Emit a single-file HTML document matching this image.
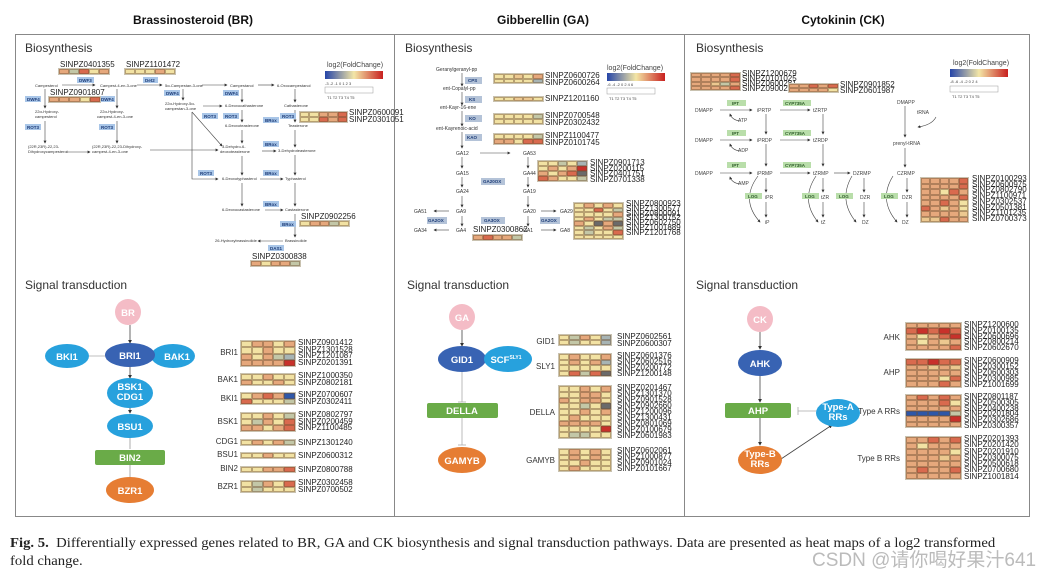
<!DOCTYPE html>
<html><head><meta charset="utf-8"><style>
*{margin:0;padding:0;box-sizing:border-box}
body{width:1058px;height:574px;background:#fff;position:relative;overflow:hidden;font-family:"Liberation Sans",sans-serif;color:#333}
.a{position:absolute}
.h{position:absolute;display:grid;grid-template-columns:repeat(5,1fr);grid-auto-rows:1fr;border:1px solid #c9c2b0}
.h i{display:block;border:0.5px solid rgba(110,80,50,.45)}
.y{background:#f2e2a3}.o{background:#ecc890}.p{background:#e6a87c}.r{background:#d96a4e}.d{background:#c8312b}.g{background:#c3c7a7}.b{background:#2f57a8}.k{background:#6a6a6a}.e{background:#a7b4b4}
.gl{position:absolute;font-size:8px;line-height:6.5px;color:#222;white-space:pre}
.gn{position:absolute;font-size:8px;color:#333;text-align:right}
svg{position:absolute;left:0;top:0}
</style></head><body>
<svg width="1058" height="574" viewBox="0 0 1058 574" font-family="Liberation Sans, sans-serif">
<defs><marker id="m" markerWidth="5" markerHeight="5" refX="4" refY="2.5" orient="auto"><path d="M0,0L5,2.5L0,5z" fill="#333"/></marker>
<linearGradient id="lg"><stop offset="0" stop-color="#2545a8"/><stop offset=".5" stop-color="#f3e6a6"/><stop offset="1" stop-color="#c8201f"/></linearGradient></defs>
<g font-weight="bold" font-size="12" fill="#111" text-anchor="middle">
<text x="193" y="24">Brassinosteroid (BR)</text><text x="543" y="24">Gibberellin (GA)</text><text x="843" y="24">Cytokinin (CK)</text></g>
<rect x="15.5" y="34.5" width="1014" height="482" fill="none" stroke="#888"/>
<line x1="394.5" y1="34" x2="394.5" y2="517" stroke="#888"/><line x1="684.5" y1="34" x2="684.5" y2="517" stroke="#888"/>
<g font-size="12" fill="#333"><text x="25" y="52">Biosynthesis</text><text x="405" y="52">Biosynthesis</text><text x="696" y="52">Biosynthesis</text>
<text x="25" y="289">Signal transduction</text><text x="407" y="289">Signal transduction</text><text x="696" y="289">Signal transduction</text></g>
<g font-size="4" fill="#444">
<text x="327" y="67" font-size="7">log2(FoldChange)</text><rect x="325" y="71" width="58" height="8" fill="url(#lg)"/>
<text x="325" y="85">-3  -2  -1   0   1   2   3</text>
<rect x="325" y="87" width="48" height="6" fill="none" stroke="#999" stroke-width=".5"/><text x="327" y="99">T1   T2   T3   T4   T5</text>
<text x="607" y="70" font-size="7">log2(FoldChange)</text><rect x="607" y="73" width="58" height="8" fill="url(#lg)"/>
<text x="607" y="86">-6  -4  -2   0   2   4   6</text>
<rect x="607" y="88" width="48" height="6" fill="none" stroke="#999" stroke-width=".5"/><text x="609" y="100">T1   T2   T3   T4   T5</text>
<text x="953" y="65" font-size="7">log2(FoldChange)</text><rect x="950" y="69" width="58" height="8" fill="url(#lg)"/>
<text x="950" y="83">-8  -6  -4  -2   0   2   4</text>
<rect x="950" y="86" width="48" height="6" fill="none" stroke="#999" stroke-width=".5"/><text x="952" y="98">T1   T2   T3   T4   T5</text>
</g>
<g font-size="4" fill="#333">
<text x="35" y="87">Campesterol</text><text x="100" y="87">Campest-4-en-3-one</text><text x="165" y="87">5α-Campestan-3-one</text><text x="230" y="87">Campestanol</text><text x="277" y="87">6-Oxocampestanol</text>
<text x="35" y="113">22α-Hydroxy-</text><text x="35" y="118">campesterol</text><text x="100" y="113">22α-Hydroxy-</text><text x="97" y="118">campest-4-en-3-one</text>
<text x="165" y="105">22α-Hydroxy-5α-</text><text x="165" y="110">campestan-3-one</text><text x="225" y="107">6-Deoxocathasterone</text><text x="284" y="107">Cathasterone</text>
<text x="225" y="127">6-Deoxoteasterone</text><text x="288" y="127">Teasterone</text>
<text x="28" y="148">(22R,23R)-22,23-</text><text x="28" y="153">Dihydroxycampesterol</text><text x="92" y="148">(22R,23R)-22,23-Dihydroxy-</text><text x="92" y="153">campest-4-en-3-one</text>
<text x="222" y="148">3-Dehydro-6-</text><text x="220" y="153">deoxoteasterone</text><text x="278" y="152">3-Dehydroteasterone</text>
<text x="222" y="180">6-Deoxotyphasterol</text><text x="285" y="180">Typhasterol</text>
<text x="222" y="211">6-Deoxocastasterone</text><text x="285" y="211">Castasterone</text>
<text x="215" y="242">26-Hydroxybrassinolide</text><text x="285" y="242">Brassinolide</text></g>
<g stroke="#444" stroke-width=".6" fill="none" marker-end="url(#m)">
<line x1="62" y1="85" x2="95" y2="85"/><line x1="137" y1="85" x2="162" y2="85"/><line x1="202" y1="85" x2="227" y2="85"/><line x1="258" y1="85" x2="274" y2="85"/>
<line x1="45" y1="89" x2="45" y2="108"/><line x1="117" y1="89" x2="117" y2="108"/><line x1="183" y1="89" x2="183" y2="100"/><line x1="242" y1="89" x2="242" y2="102"/><line x1="295" y1="89" x2="295" y2="102"/>
<line x1="45" y1="121" x2="45" y2="143"/><line x1="117" y1="121" x2="117" y2="143"/><line x1="242" y1="110" x2="242" y2="122"/><line x1="295" y1="110" x2="295" y2="122"/>
<line x1="66" y1="152" x2="90" y2="152"/><line x1="150" y1="150" x2="218" y2="150"/><line x1="192" y1="112" x2="222" y2="146"/><line x1="203" y1="106" x2="222" y2="106"/>
<line x1="242" y1="130" x2="242" y2="143"/><line x1="295" y1="130" x2="295" y2="147"/><line x1="262" y1="151" x2="276" y2="151"/>
<line x1="242" y1="156" x2="242" y2="175"/><line x1="295" y1="155" x2="295" y2="175"/><line x1="260" y1="179" x2="283" y2="179"/>
<line x1="242" y1="183" x2="242" y2="206"/><line x1="295" y1="183" x2="295" y2="206"/><line x1="265" y1="210" x2="283" y2="210"/>
<line x1="295" y1="214" x2="295" y2="237"/><line x1="283" y1="241" x2="258" y2="241"/>
<polyline points="192,112 192,179 218,179"/></g>
<g font-size="4.5" font-weight="bold" fill="#1d3c78">
<rect x="77" y="77" width="17" height="6" fill="#a9c6e8"/><text x="79" y="82">DWF3</text>
<rect x="143" y="77" width="15" height="6" fill="#a9c6e8"/><text x="145" y="82">Det2</text>
<rect x="25" y="96" width="16" height="6" fill="#a9c6e8"/><text x="27" y="101">DWF4</text>
<rect x="99" y="96" width="16" height="6" fill="#a9c6e8"/><text x="101" y="101">DWF4</text>
<rect x="164" y="90" width="16" height="6" fill="#a9c6e8"/><text x="166" y="95">DWF4</text>
<rect x="223" y="90" width="16" height="6" fill="#a9c6e8"/><text x="225" y="95">DWF4</text>
<rect x="25" y="124" width="16" height="6" fill="#a9c6e8"/><text x="27" y="129">ROT3</text>
<rect x="99" y="124" width="16" height="6" fill="#a9c6e8"/><text x="101" y="129">ROT3</text>
<rect x="202" y="113" width="16" height="6" fill="#a9c6e8"/><text x="204" y="118">ROT3</text>
<rect x="223" y="113" width="16" height="6" fill="#a9c6e8"/><text x="225" y="118">ROT3</text>
<rect x="280" y="113" width="16" height="6" fill="#a9c6e8"/><text x="282" y="118">ROT3</text>
<rect x="263" y="117" width="16" height="6" fill="#a9c6e8"/><text x="265" y="122">BRox</text>
<rect x="263" y="141" width="16" height="6" fill="#a9c6e8"/><text x="265" y="146">BRox</text>
<rect x="198" y="170" width="16" height="6" fill="#a9c6e8"/><text x="200" y="175">ROT3</text>
<rect x="263" y="170" width="16" height="6" fill="#a9c6e8"/><text x="265" y="175">BRox</text>
<rect x="263" y="201" width="16" height="6" fill="#a9c6e8"/><text x="265" y="206">BRox</text>
<rect x="280" y="221" width="16" height="6" fill="#a9c6e8"/><text x="282" y="226">BRox</text>
<rect x="268" y="245" width="16" height="6" fill="#a9c6e8"/><text x="270" y="250">DAS1</text></g>
<g font-size="5" fill="#333">
<text x="436" y="71">Geranylgeranyl-pp</text><text x="443" y="90">ent-Copalyl-pp</text><text x="440" y="109">ent-Kayr-16-ene</text><text x="436" y="130">ent-Kayrenoic-acid</text>
<text x="456" y="155">GA12</text><text x="523" y="155">GA53</text><text x="456" y="175">GA15</text><text x="523" y="175">GA44</text><text x="456" y="193">GA24</text><text x="523" y="193">GA19</text>
<text x="456" y="213">GA9</text><text x="523" y="213">GA20</text><text x="414" y="213">GA51</text><text x="560" y="213">GA29</text>
<text x="456" y="232">GA4</text><text x="523" y="232">GA1</text><text x="414" y="232">GA34</text><text x="560" y="232">GA8</text></g>
<g stroke="#444" stroke-width=".6" fill="none" marker-end="url(#m)">
<line x1="462" y1="73" x2="462" y2="86"/><line x1="462" y1="92" x2="462" y2="105"/><line x1="462" y1="111" x2="462" y2="126"/><line x1="462" y1="132" x2="462" y2="148"/>
<line x1="480" y1="153" x2="510" y2="153"/><line x1="462" y1="157" x2="462" y2="168"/><line x1="462" y1="177" x2="462" y2="187"/><line x1="462" y1="196" x2="462" y2="207"/><line x1="462" y1="216" x2="462" y2="226"/>
<line x1="528" y1="157" x2="528" y2="168"/><line x1="528" y1="177" x2="528" y2="187"/><line x1="528" y1="196" x2="528" y2="207"/><line x1="528" y1="216" x2="528" y2="226"/>
<line x1="449" y1="211" x2="434" y2="211"/><line x1="449" y1="230" x2="434" y2="230"/><line x1="541" y1="211" x2="556" y2="211"/><line x1="541" y1="230" x2="556" y2="230"/></g>
<g font-size="4.5" font-weight="bold" fill="#1d3c78">
<rect x="465" y="77" width="17" height="7" fill="#b4c3d8"/><text x="468" y="82">CPS</text>
<rect x="465" y="96" width="17" height="7" fill="#b4c3d8"/><text x="469" y="101">KS</text>
<rect x="465" y="115" width="17" height="7" fill="#b4c3d8"/><text x="469" y="120">KO</text>
<rect x="465" y="134" width="17" height="7" fill="#b4c3d8"/><text x="467" y="139">KAO</text>
<rect x="481" y="178" width="24" height="7" fill="#b4c3d8"/><text x="483" y="183">GA20OX</text>
<rect x="427" y="217" width="20" height="7" fill="#b4c3d8"/><text x="428" y="222">GA2OX</text>
<rect x="481" y="217" width="24" height="7" fill="#b4c3d8"/><text x="484" y="222">GA3OX</text>
<rect x="540" y="217" width="20" height="7" fill="#b4c3d8"/><text x="541" y="222">GA2OX</text></g>
<g font-size="5" fill="#444">
<text x="695" y="112">DMAPP</text><text x="695" y="142">DMAPP</text><text x="695" y="175">DMAPP</text>
<text x="757" y="112">iPRTP</text><text x="757" y="142">iPRDP</text><text x="757" y="175">iPRMP</text>
<text x="813" y="112">tZRTP</text><text x="813" y="142">tZRDP</text><text x="813" y="175">tZRMP</text>
<text x="853" y="175">DZRMP</text><text x="897" y="175">CZRMP</text>
<text x="765" y="199">iPR</text><text x="821" y="199">tZR</text><text x="860" y="199">DZR</text><text x="902" y="199">DZR</text>
<text x="765" y="224">iP</text><text x="821" y="224">tZ</text><text x="862" y="224">DZ</text><text x="902" y="224">DZ</text>
<text x="897" y="104">DMAPP</text><text x="917" y="114">tRNA</text><text x="893" y="145">prenyl-tRNA</text>
<text x="738" y="122">ATP</text><text x="738" y="152">ADP</text><text x="738" y="185">AMP</text></g>
<g stroke="#444" stroke-width=".6" fill="none" marker-end="url(#m)">
<line x1="720" y1="110" x2="752" y2="110"/><line x1="720" y1="140" x2="752" y2="140"/><line x1="720" y1="173" x2="752" y2="173"/>
<line x1="780" y1="110" x2="810" y2="110"/><line x1="780" y1="140" x2="810" y2="140"/><line x1="780" y1="173" x2="810" y2="173"/><line x1="834" y1="173" x2="850" y2="173"/>
<line x1="766" y1="114" x2="766" y2="134"/><line x1="766" y1="144" x2="766" y2="166"/><line x1="766" y1="178" x2="766" y2="192"/><line x1="766" y1="202" x2="766" y2="217"/>
<line x1="823" y1="114" x2="823" y2="134"/><line x1="823" y1="144" x2="823" y2="166"/><line x1="823" y1="178" x2="823" y2="192"/><line x1="823" y1="202" x2="823" y2="217"/>
<line x1="864" y1="178" x2="864" y2="192"/><line x1="864" y1="202" x2="864" y2="217"/><line x1="907" y1="178" x2="907" y2="192"/><line x1="907" y1="202" x2="907" y2="217"/>
<line x1="905" y1="106" x2="905" y2="137"/><line x1="905" y1="148" x2="905" y2="167"/>
<path d="M936,117 Q932,125 918,127"/><path d="M740,121 Q732,120 730,114"/><path d="M740,151 Q732,150 730,144"/><path d="M740,184 Q732,183 730,177"/>
<path d="M758,176 Q740,200 760,222"/><path d="M816,176 Q800,200 818,222"/><path d="M852,176 Q838,200 856,222"/><path d="M893,176 Q878,200 897,222"/></g>
<g font-size="4.5" font-weight="bold" fill="#2f5d2a">
<rect x="727" y="100" width="19" height="6" fill="#b9deaa"/><text x="732" y="105">IPT</text>
<rect x="727" y="130" width="19" height="6" fill="#b9deaa"/><text x="732" y="135">IPT</text>
<rect x="727" y="162" width="19" height="6" fill="#b9deaa"/><text x="732" y="167">IPT</text>
<rect x="783" y="100" width="28" height="6" fill="#b9deaa"/><text x="785" y="105">CYP735A</text>
<rect x="783" y="130" width="28" height="6" fill="#b9deaa"/><text x="785" y="135">CYP735A</text>
<rect x="783" y="162" width="28" height="6" fill="#b9deaa"/><text x="785" y="167">CYP735A</text>
<rect x="745" y="193" width="17" height="6" fill="#b9deaa"/><text x="748" y="198">LOG</text>
<rect x="802" y="193" width="17" height="6" fill="#b9deaa"/><text x="805" y="198">LOG</text>
<rect x="836" y="193" width="17" height="6" fill="#b9deaa"/><text x="839" y="198">LOG</text>
<rect x="881" y="193" width="17" height="6" fill="#b9deaa"/><text x="884" y="198">LOG</text></g>
<g stroke="#444" stroke-width=".8" fill="none">
<line x1="130" y1="325" x2="130" y2="343" marker-end="url(#m)"/><line x1="130" y1="367" x2="130" y2="378" marker-end="url(#m)"/><line x1="130" y1="407" x2="130" y2="413" marker-end="url(#m)"/>
<line x1="130" y1="438" x2="130" y2="449" stroke="#999"/><line x1="130" y1="464" x2="130" y2="477" stroke="#999"/>
<line x1="89" y1="356" x2="106" y2="356" stroke="#aaa"/><line x1="107" y1="352" x2="107" y2="360" stroke="#aaa"/>
<line x1="462" y1="330" x2="462" y2="346" marker-end="url(#m)"/><line x1="462" y1="371" x2="462" y2="402" stroke="#aaa"/><line x1="458" y1="402" x2="466" y2="402" stroke="#aaa"/>
<line x1="462" y1="418" x2="462" y2="445" stroke="#aaa"/><line x1="458" y1="445" x2="466" y2="445" stroke="#aaa"/>
<line x1="760" y1="332" x2="760" y2="349" marker-end="url(#m)"/><line x1="760" y1="376" x2="760" y2="402" marker-end="url(#m)"/><line x1="760" y1="418" x2="760" y2="445" marker-end="url(#m)"/>
<line x1="816" y1="411" x2="798" y2="411" stroke="#aaa"/><line x1="798" y1="407" x2="798" y2="415" stroke="#aaa"/><line x1="781" y1="459" x2="832" y2="425" marker-end="url(#m)"/></g>
<g font-size="9.5" fill="#fff" text-anchor="middle" font-weight="bold">
<circle cx="128" cy="312" r="13" fill="#f4bcc6"/><text x="128" y="316">BR</text>
<ellipse cx="67" cy="356" rx="22" ry="12" fill="#27a1dd"/><text x="67" y="360">BKI1</text>
<ellipse cx="173" cy="356" rx="22" ry="12" fill="#27a1dd"/><text x="177" y="360">BAK1</text>
<ellipse cx="130" cy="355" rx="25" ry="12" fill="#3863b3"/><text x="130" y="359">BRI1</text>
<ellipse cx="130" cy="393" rx="23" ry="15" fill="#27a1dd"/><text x="130" y="390">BSK1</text><text x="130" y="400">CDG1</text>
<ellipse cx="130" cy="426" rx="23" ry="12" fill="#27a1dd"/><text x="130" y="430">BSU1</text>
<rect x="95" y="450" width="70" height="15" rx="2" fill="#6aab48"/><text x="130" y="461">BIN2</text>
<ellipse cx="130" cy="490" rx="24" ry="13" fill="#e67d33"/><text x="130" y="494">BZR1</text>
<circle cx="462" cy="317" r="13" fill="#f4bcc6"/><text x="462" y="321">GA</text>
<ellipse cx="462" cy="359" rx="24" ry="13" fill="#3863b3"/><text x="462" y="363">GID1</text>
<ellipse cx="508" cy="359" rx="24" ry="13" fill="#27a1dd"/><text x="506" y="363">SCF<tspan font-size="5" dy="-4">SLY1</tspan></text>
<rect x="427" y="403" width="71" height="15" rx="2" fill="#6aab48"/><text x="462" y="414">DELLA</text>
<ellipse cx="462" cy="460" rx="24" ry="13" fill="#e67d33"/><text x="462" y="464">GAMYB</text>
<circle cx="760" cy="319" r="13" fill="#f4bcc6"/><text x="760" y="323">CK</text>
<ellipse cx="760" cy="363" rx="22" ry="13" fill="#3863b3"/><text x="760" y="367">AHK</text>
<rect x="725" y="403" width="66" height="15" rx="2" fill="#6aab48"/><text x="758" y="414">AHP</text>
<ellipse cx="838" cy="413" rx="22" ry="14" fill="#27a1dd"/><text x="838" y="410">Type-A</text><text x="838" y="420">RRs</text>
<ellipse cx="760" cy="460" rx="22" ry="14" fill="#e67d33"/><text x="760" y="457">Type-B</text><text x="760" y="467">RRs</text></g>
</svg>

<div class="gl" style="left:60px;top:61px;font-size:8px;line-height:8px">SINPZ0401355</div>
<div class="h" style="left:58px;top:68px;width:52px;height:7px"><i class="p"></i><i class="g"></i><i class="r"></i><i class="y"></i><i class="p"></i></div>
<div class="gl" style="left:126px;top:61px;font-size:8px;line-height:8px">SINPZ1101472</div>
<div class="h" style="left:124px;top:68px;width:52px;height:7px"><i class="y"></i><i class="y"></i><i class="y"></i><i class="p"></i><i class="y"></i></div>
<div class="gl" style="left:50px;top:89px;font-size:8px;line-height:8px">SINPZ0901807</div>
<div class="h" style="left:48px;top:96px;width:53px;height:7px"><i class="p"></i><i class="p"></i><i class="p"></i><i class="y"></i><i class="r"></i></div>
<div class="h" style="left:299px;top:111px;width:49px;height:12px"><i class="y"></i><i class="y"></i><i class="p"></i><i class="p"></i><i class="r"></i><i class="y"></i><i class="y"></i><i class="r"></i><i class="p"></i><i class="r"></i></div>
<div class="gl" style="left:349px;top:110px;font-size:8px;line-height:6.5px">SINPZ0600091
SINPZ0301051</div>
<div class="gl" style="left:301px;top:213px;font-size:8px;line-height:8px">SINPZ0902256</div>
<div class="h" style="left:299px;top:220px;width:51px;height:7px"><i class="y"></i><i class="p"></i><i class="p"></i><i class="g"></i><i class="y"></i></div>
<div class="gl" style="left:252px;top:253px;font-size:8px;line-height:8px">SINPZ0300838</div>
<div class="h" style="left:250px;top:260px;width:51px;height:7px"><i class="p"></i><i class="y"></i><i class="p"></i><i class="p"></i><i class="g"></i></div>

<div class="h" style="left:493px;top:73px;width:51px;height:11px"><i class="y"></i><i class="y"></i><i class="o"></i><i class="y"></i><i class="p"></i><i class="y"></i><i class="y"></i><i class="y"></i><i class="y"></i><i class="e"></i></div>
<div class="gl" style="left:545px;top:73px">SINPZ0600726
SINPZ0600264</div>
<div class="h" style="left:493px;top:96px;width:51px;height:6px"><i class="y"></i><i class="y"></i><i class="o"></i><i class="o"></i><i class="y"></i></div>
<div class="gl" style="left:545px;top:96px">SINPZ1201160</div>
<div class="h" style="left:493px;top:113px;width:51px;height:12px"><i class="y"></i><i class="y"></i><i class="y"></i><i class="y"></i><i class="g"></i><i class="y"></i><i class="y"></i><i class="y"></i><i class="y"></i><i class="y"></i></div>
<div class="gl" style="left:545px;top:113px">SINPZ0700548
SINPZ0302432</div>
<div class="h" style="left:493px;top:133px;width:51px;height:12px"><i class="y"></i><i class="y"></i><i class="y"></i><i class="y"></i><i class="g"></i><i class="p"></i><i class="p"></i><i class="y"></i><i class="r"></i><i class="r"></i></div>
<div class="gl" style="left:545px;top:133px">SINPZ1100477
SINPZ0101745</div>
<div class="h" style="left:537px;top:160px;width:51px;height:22px"><i class="y"></i><i class="y"></i><i class="g"></i><i class="y"></i><i class="e"></i><i class="y"></i><i class="p"></i><i class="y"></i><i class="p"></i><i class="d"></i><i class="p"></i><i class="y"></i><i class="p"></i><i class="r"></i><i class="k"></i><i class="r"></i><i class="p"></i><i class="y"></i><i class="y"></i><i class="g"></i></div>
<div class="gl" style="left:590px;top:160px;line-height:5.5px">SINPZ0901713
SINPZ0200115
SINPZ0401751
SINPZ0701338</div>
<div class="h" style="left:573px;top:202px;width:51px;height:38px"><i class="y"></i><i class="p"></i><i class="y"></i><i class="p"></i><i class="y"></i><i class="y"></i><i class="y"></i><i class="r"></i><i class="y"></i><i class="g"></i><i class="y"></i><i class="y"></i><i class="y"></i><i class="y"></i><i class="p"></i><i class="y"></i><i class="p"></i><i class="y"></i><i class="g"></i><i class="g"></i><i class="p"></i><i class="y"></i><i class="k"></i><i class="p"></i><i class="k"></i><i class="y"></i><i class="g"></i><i class="y"></i><i class="p"></i><i class="g"></i><i class="y"></i><i class="g"></i><i class="y"></i><i class="y"></i><i class="r"></i><i class="y"></i><i class="y"></i><i class="y"></i><i class="y"></i><i class="y"></i></div>
<div class="gl" style="left:626px;top:202px;line-height:4.8px">SINPZ0800923
SINPZ1300577
SINPZ0800091
SINPZ1300752
SINPZ0602750
SINPZ1001889
SINPZ1201768</div>
<div class="gl" style="left:473px;top:226px;font-size:8px;line-height:8px">SINPZ0300862</div>
<div class="h" style="left:472px;top:234px;width:51px;height:7px"><i class="p"></i><i class="r"></i><i class="p"></i><i class="p"></i><i class="g"></i></div>

<div class="h" style="left:690px;top:72px;width:51px;height:19px"><i class="p"></i><i class="p"></i><i class="p"></i><i class="p"></i><i class="r"></i><i class="p"></i><i class="p"></i><i class="p"></i><i class="p"></i><i class="r"></i><i class="p"></i><i class="p"></i><i class="o"></i><i class="g"></i><i class="p"></i><i class="p"></i><i class="p"></i><i class="p"></i><i class="p"></i><i class="r"></i></div>
<div class="gl" style="left:742px;top:71px;line-height:5px">SINPZ1200679
SINPZ0101025
SINPZ0600281
SINPZ0900248</div>
<div class="h" style="left:788px;top:83px;width:51px;height:10px"><i class="p"></i><i class="p"></i><i class="r"></i><i class="p"></i><i class="r"></i><i class="p"></i><i class="p"></i><i class="p"></i><i class="p"></i><i class="y"></i></div>
<div class="gl" style="left:840px;top:82px;line-height:5.5px">SINPZ0901852
SINPZ0601987</div>
<div class="h" style="left:920px;top:177px;width:49px;height:46px"><i class="p"></i><i class="p"></i><i class="p"></i><i class="p"></i><i class="r"></i><i class="p"></i><i class="p"></i><i class="p"></i><i class="p"></i><i class="r"></i><i class="p"></i><i class="p"></i><i class="y"></i><i class="r"></i><i class="p"></i><i class="p"></i><i class="p"></i><i class="p"></i><i class="p"></i><i class="r"></i><i class="p"></i><i class="p"></i><i class="r"></i><i class="p"></i><i class="y"></i><i class="r"></i><i class="p"></i><i class="o"></i><i class="p"></i><i class="y"></i><i class="p"></i><i class="p"></i><i class="p"></i><i class="p"></i><i class="o"></i><i class="o"></i><i class="o"></i><i class="r"></i><i class="p"></i><i class="p"></i></div>
<div class="gl" style="left:972px;top:176px;line-height:5.7px">SINPZ0100293
SINPZ0600975
SINPZ0802790
SINPZ1100971
SINPZ0302537
SINPZ0501381
SINPZ1101235
SINPZ0700373</div>

<div class="gn" style="left:205px;top:348px;width:33px">BRI1</div>
<div class="h" style="left:240px;top:340px;width:56px;height:27px"><i class="y"></i><i class="p"></i><i class="p"></i><i class="y"></i><i class="p"></i><i class="y"></i><i class="y"></i><i class="p"></i><i class="y"></i><i class="y"></i><i class="p"></i><i class="y"></i><i class="p"></i><i class="g"></i><i class="e"></i><i class="p"></i><i class="p"></i><i class="p"></i><i class="p"></i><i class="d"></i></div>
<div class="gl" style="left:298px;top:340px">SINPZ0901412
SINPZ1301528
SINPZ1201087
SINPZ0201391</div>
<div class="gn" style="left:205px;top:375px;width:33px">BAK1</div>
<div class="h" style="left:240px;top:373px;width:56px;height:13px"><i class="y"></i><i class="y"></i><i class="p"></i><i class="y"></i><i class="y"></i><i class="p"></i><i class="y"></i><i class="y"></i><i class="p"></i><i class="y"></i></div>
<div class="gl" style="left:298px;top:373px">SINPZ1000350
SINPZ0802181</div>
<div class="gn" style="left:205px;top:394px;width:33px">BKI1</div>
<div class="h" style="left:240px;top:392px;width:56px;height:13px"><i class="y"></i><i class="p"></i><i class="r"></i><i class="p"></i><i class="b"></i><i class="r"></i><i class="y"></i><i class="y"></i><i class="y"></i><i class="g"></i></div>
<div class="gl" style="left:298px;top:392px">SINPZ0700607
SINPZ0302411</div>
<div class="gn" style="left:205px;top:417px;width:33px">BSK1</div>
<div class="h" style="left:240px;top:412px;width:56px;height:20px"><i class="y"></i><i class="y"></i><i class="p"></i><i class="y"></i><i class="g"></i><i class="y"></i><i class="g"></i><i class="p"></i><i class="y"></i><i class="r"></i><i class="p"></i><i class="p"></i><i class="y"></i><i class="p"></i><i class="r"></i></div>
<div class="gl" style="left:298px;top:412px">SINPZ0802797
SINPZ0200459
SINPZ1100485</div>
<div class="gn" style="left:205px;top:437px;width:33px">CDG1</div>
<div class="h" style="left:240px;top:439px;width:56px;height:7px"><i class="y"></i><i class="p"></i><i class="y"></i><i class="p"></i><i class="g"></i></div>
<div class="gl" style="left:298px;top:440px">SINPZ1301240</div>
<div class="gn" style="left:205px;top:450px;width:33px">BSU1</div>
<div class="h" style="left:240px;top:452px;width:56px;height:7px"><i class="y"></i><i class="y"></i><i class="p"></i><i class="y"></i><i class="y"></i></div>
<div class="gl" style="left:298px;top:453px">SINPZ0600312</div>
<div class="gn" style="left:205px;top:464px;width:33px">BIN2</div>
<div class="h" style="left:240px;top:466px;width:56px;height:7px"><i class="y"></i><i class="y"></i><i class="p"></i><i class="p"></i><i class="r"></i></div>
<div class="gl" style="left:298px;top:467px">SINPZ0800788</div>
<div class="gn" style="left:205px;top:482px;width:33px">BZR1</div>
<div class="h" style="left:240px;top:480px;width:56px;height:13px"><i class="y"></i><i class="g"></i><i class="p"></i><i class="y"></i><i class="r"></i><i class="y"></i><i class="g"></i><i class="y"></i><i class="y"></i><i class="y"></i></div>
<div class="gl" style="left:298px;top:480px">SINPZ0302458
SINPZ0700502</div>

<div class="gn" style="left:520px;top:337px;width:35px">GID1</div>
<div class="h" style="left:558px;top:334px;width:54px;height:12px"><i class="y"></i><i class="g"></i><i class="p"></i><i class="y"></i><i class="e"></i><i class="y"></i><i class="g"></i><i class="y"></i><i class="y"></i><i class="e"></i></div>
<div class="gl" style="left:617px;top:334px">SINPZ0602561
SINPZ0600307</div>
<div class="gn" style="left:520px;top:362px;width:35px">SLY1</div>
<div class="h" style="left:558px;top:353px;width:54px;height:24px"><i class="y"></i><i class="p"></i><i class="y"></i><i class="y"></i><i class="p"></i><i class="y"></i><i class="p"></i><i class="y"></i><i class="p"></i><i class="e"></i><i class="y"></i><i class="y"></i><i class="y"></i><i class="y"></i><i class="y"></i><i class="y"></i><i class="r"></i><i class="g"></i><i class="r"></i><i class="k"></i></div>
<div class="gl" style="left:617px;top:353px;line-height:6px">SINPZ0601376
SINPZ0602516
SINPZ0200772
SINPZ1200148</div>
<div class="gn" style="left:520px;top:408px;width:35px">DELLA</div>
<div class="h" style="left:558px;top:385px;width:54px;height:54px"><i class="y"></i><i class="y"></i><i class="p"></i><i class="y"></i><i class="p"></i><i class="y"></i><i class="y"></i><i class="p"></i><i class="p"></i><i class="y"></i><i class="p"></i><i class="y"></i><i class="p"></i><i class="p"></i><i class="y"></i><i class="y"></i><i class="y"></i><i class="g"></i><i class="y"></i><i class="k"></i><i class="y"></i><i class="y"></i><i class="p"></i><i class="y"></i><i class="p"></i><i class="y"></i><i class="p"></i><i class="y"></i><i class="y"></i><i class="y"></i><i class="p"></i><i class="p"></i><i class="p"></i><i class="p"></i><i class="y"></i><i class="y"></i><i class="y"></i><i class="y"></i><i class="y"></i><i class="d"></i><i class="y"></i><i class="g"></i><i class="g"></i><i class="y"></i><i class="y"></i></div>
<div class="gl" style="left:617px;top:385px;line-height:6px">SINPZ0201467
SINPZ1301370
SINPZ0901528
SINPZ0902660
SINPZ1200096
SINPZ1300431
SINPZ0801069
SINPZ0100679
SINPZ0601983</div>
<div class="gn" style="left:520px;top:456px;width:35px">GAMYB</div>
<div class="h" style="left:558px;top:448px;width:54px;height:24px"><i class="y"></i><i class="p"></i><i class="y"></i><i class="p"></i><i class="y"></i><i class="y"></i><i class="p"></i><i class="y"></i><i class="p"></i><i class="y"></i><i class="y"></i><i class="y"></i><i class="p"></i><i class="y"></i><i class="y"></i><i class="y"></i><i class="p"></i><i class="y"></i><i class="y"></i><i class="y"></i></div>
<div class="gl" style="left:617px;top:448px;line-height:6px">SINPZ0602061
SINPZ1000877
SINPZ0901024
SINPZ0101667</div>

<div class="gn" style="left:860px;top:333px;width:40px">AHK</div>
<div class="h" style="left:905px;top:322px;width:57px;height:29px"><i class="p"></i><i class="p"></i><i class="p"></i><i class="p"></i><i class="p"></i><i class="r"></i><i class="d"></i><i class="r"></i><i class="d"></i><i class="r"></i><i class="p"></i><i class="y"></i><i class="p"></i><i class="r"></i><i class="d"></i><i class="p"></i><i class="y"></i><i class="p"></i><i class="o"></i><i class="p"></i><i class="p"></i><i class="p"></i><i class="p"></i><i class="p"></i><i class="r"></i></div>
<div class="gl" style="left:964px;top:322px;line-height:5.8px">SINPZ1200600
SINPZ0100135
SINPZ0600696
SINPZ0800214
SINPZ0602670</div>
<div class="gn" style="left:860px;top:368px;width:40px">AHP</div>
<div class="h" style="left:905px;top:358px;width:57px;height:30px"><i class="r"></i><i class="r"></i><i class="d"></i><i class="r"></i><i class="r"></i><i class="p"></i><i class="p"></i><i class="o"></i><i class="p"></i><i class="o"></i><i class="p"></i><i class="p"></i><i class="p"></i><i class="p"></i><i class="p"></i><i class="p"></i><i class="p"></i><i class="p"></i><i class="y"></i><i class="r"></i><i class="p"></i><i class="p"></i><i class="p"></i><i class="r"></i><i class="p"></i></div>
<div class="gl" style="left:964px;top:358px;line-height:5.9px">SINPZ0600909
SINPZ0300152
SINPZ0600303
SINPZ0300985
SINPZ1001699</div>
<div class="gn" style="left:845px;top:407px;width:55px">Type A RRs</div>
<div class="h" style="left:905px;top:394px;width:57px;height:34px"><i class="p"></i><i class="r"></i><i class="p"></i><i class="r"></i><i class="p"></i><i class="p"></i><i class="p"></i><i class="p"></i><i class="r"></i><i class="y"></i><i class="p"></i><i class="p"></i><i class="p"></i><i class="p"></i><i class="p"></i><i class="b"></i><i class="b"></i><i class="b"></i><i class="b"></i><i class="g"></i><i class="p"></i><i class="p"></i><i class="p"></i><i class="p"></i><i class="d"></i><i class="p"></i><i class="p"></i><i class="p"></i><i class="p"></i><i class="p"></i></div>
<div class="gl" style="left:964px;top:394px;line-height:5.8px">SINPZ0801187
SINPZ0500305
SINPZ0400238
SINPZ0201804
SINPZ0302686
SINPZ0300357</div>
<div class="gn" style="left:845px;top:454px;width:55px">Type B RRs</div>
<div class="h" style="left:905px;top:436px;width:57px;height:44px"><i class="p"></i><i class="p"></i><i class="r"></i><i class="p"></i><i class="r"></i><i class="p"></i><i class="y"></i><i class="p"></i><i class="p"></i><i class="p"></i><i class="p"></i><i class="p"></i><i class="p"></i><i class="p"></i><i class="y"></i><i class="p"></i><i class="p"></i><i class="p"></i><i class="o"></i><i class="p"></i><i class="p"></i><i class="p"></i><i class="p"></i><i class="p"></i><i class="p"></i><i class="p"></i><i class="r"></i><i class="p"></i><i class="p"></i><i class="r"></i><i class="p"></i><i class="p"></i><i class="p"></i><i class="p"></i><i class="p"></i></div>
<div class="gl" style="left:964px;top:436px;line-height:6.3px">SINPZ0201393
SINPZ0201420
SINPZ0201910
SINPZ0300075
SINPZ0500618
SINPZ0700680
SINPZ1001814</div>

<div class="a" style="left:10px;top:535px;font-family:'Liberation Serif',serif;font-size:14px;line-height:18px;color:#222;white-space:nowrap;transform:scaleX(1.05);transform-origin:0 0"><b>Fig. 5.</b>&nbsp; Differentially expressed genes related to BR, GA and CK biosynthesis and signal transduction pathways. Data are presented as heat maps of a log2 transformed<br>fold change.</div>
<div class="a" style="left:812px;top:545px;font-family:'Liberation Sans','Noto Sans CJK SC',sans-serif;font-size:19px;color:rgba(170,170,170,.8);white-space:nowrap">CSDN @请你喝好果汁641</div>
</body></html>
